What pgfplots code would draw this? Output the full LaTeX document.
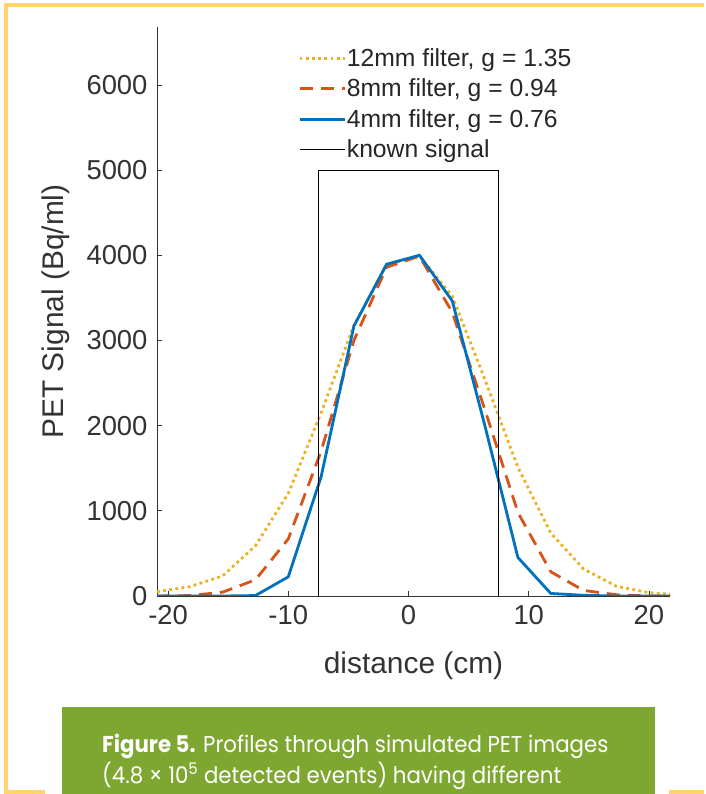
\documentclass[border=0pt]{standalone}
\usepackage{fontspec}
\setmainfont{Liberation Sans}
\newfontfamily\capfont[FakeStretch=0.93]{Poppins}
\usepackage{pgfplots}
\pgfplotsset{compat=1.18}

\definecolor{mblue}{rgb}{0,0.447,0.741}
\definecolor{morange}{rgb}{0.85,0.325,0.098}
\definecolor{myellow}{rgb}{0.929,0.694,0.125}
\definecolor{axgray}{HTML}{333333}
\definecolor{capgreen}{HTML}{7DA730}
\definecolor{frameyellow}{HTML}{FFD36E}

\begin{document}
\begin{tikzpicture}
% page frame and caption box
\fill[white] (0bp,0bp) rectangle (704bp,794bp);
\draw[frameyellow, line width=4bp] (704bp,788.5bp) -- (6bp,788.5bp) -- (6bp,2bp) -- (45bp,2bp);
\draw[frameyellow, line width=4bp] (669bp,2bp) -- (704bp,2bp);
\fill[capgreen] (62bp,0bp) rectangle (655bp,87bp);
\node[anchor=base west, text=white, inner sep=0, font=\capfont\fontsize{23}{28}\selectfont]
  at (102bp,41bp) {\textbf{Figure 5.} Profiles through simulated PET images};
\node[anchor=base west, text=white, inner sep=0, font=\capfont\fontsize{23}{28}\selectfont]
  at (102bp,11bp) {(4.8 × 10\textsuperscript{5} detected events) having different};

\begin{axis}[at={(157bp,198bp)}, anchor=south west, scale only axis,
  width=513bp, height=569bp,
  xmin=-20.92, xmax=21.75, ymin=0, ymax=6680,
  axis x line*=bottom, axis y line*=left,
  axis line style={axgray, line width=0.7bp},
  xtick={-20,-10,0,10,20}, xticklabels={-20,-10,0,10,20},
  ytick={0,1000,2000,3000,4000,5000,6000},
  yticklabels={0,1000,2000,3000,4000,5000,6000},
  tick align=inside, major tick length=5bp,
  tick style={axgray, line width=0.7bp},
  ticklabel style={text=axgray, font=\fontsize{27.5}{30}\selectfont},
  xticklabel style={yshift=-6bp},
  yticklabel style={xshift=-6bp},
  xlabel={distance (cm)}, ylabel={PET Signal (Bq/ml)},
  label style={text=axgray, font=\fontsize{30}{33}\selectfont},
  xlabel style={yshift=-20bp},
  ylabel style={yshift=10bp},
  legend image code/.code={\draw[#1] (0bp,0bp) -- (45bp,0bp);},
  legend cell align=left,
  legend style={at={(axis cs:-9.2,6440)}, anchor=north west, draw=none, fill=none,
    font=\fontsize{24.8}{28}\selectfont, text=black!85, row sep=9bp, inner sep=0bp,
    nodes={inner sep=1bp}},
]
\addplot[myellow, line width=2.8bp, dash pattern=on 2.8bp off 3.4bp] coordinates {
 (-20.92,50)(-18.19,110)(-15.46,235)(-12.73,590)(-10.00,1205)(-7.27,2150)
 (-4.54,3180)(-1.82,3890)(0.91,3990)(3.64,3520)(6.37,2535)(9.10,1510)
 (11.83,740)(14.56,317)(17.29,114)(20.02,39)(22.75,12)};
\addlegendentry{12mm filter, g = 1.35}
\addplot[morange, line width=2.8bp, dash pattern=on 13bp off 8bp] coordinates {
 (-20.92,0)(-18.19,5)(-15.46,45)(-12.73,190)(-10.00,670)(-7.27,1700)
 (-4.54,3000)(-1.82,3860)(0.91,3990)(3.64,3330)(6.37,2180)(9.10,980)
 (11.83,285)(14.56,65)(17.29,15)(20.02,0)(22.75,0)};
\addlegendentry{8mm filter, g = 0.94}
\addplot[mblue, line width=2.8bp] coordinates {
 (-20.92,0)(-18.19,0)(-15.46,0)(-12.73,5)(-10.00,225)(-7.27,1400)
 (-4.54,3170)(-1.82,3895)(0.91,4000)(3.64,3465)(6.37,1990)(9.10,452)
 (11.83,30)(14.56,8)(17.29,0)(20.02,0)(22.75,0)};
\addlegendentry{4mm filter, g = 0.76}
\addplot[black, line width=0.8bp] coordinates {
 (-20.92,0)(-7.5,0)(-7.5,5000)(7.5,5000)(7.5,0)(22.75,0)};
\addlegendentry{known signal}
\end{axis}
\end{tikzpicture}
\end{document}
